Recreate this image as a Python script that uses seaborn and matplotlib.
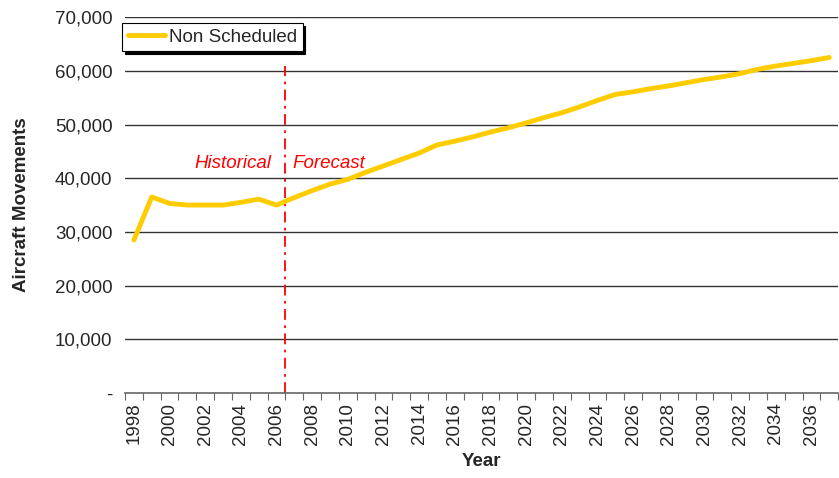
import matplotlib
matplotlib.use("Agg")
import matplotlib.pyplot as plt
import matplotlib.ticker as mticker
import seaborn as sns
import pandas as pd

# Non scheduled aircraft movements, history to 2006 and forecast after
years = list(range(1998, 2038))
movements = [28500, 36500, 35300, 35000, 35000, 35000, 35500, 36100, 35000,
             36400, 37700, 38900, 39800, 41100, 42300, 43500, 44700, 46200,
             46900, 47700, 48600, 49400, 50300, 51300, 52200, 53300, 54500,
             55600, 56100, 56700, 57200, 57800, 58400, 58900, 59500, 60300,
             60900, 61400, 61900, 62500]
series_name = "Non Scheduled"
y_ticks = [0, 10000, 20000, 30000, 40000, 50000, 60000, 70000]
split_year = 2006.5

df = pd.DataFrame({"Year": years, "Movements": movements})

sns.set_style("white")
plt.rcParams["font.family"] = ["Liberation Sans", "DejaVu Sans"]
fs = 13.5

fig = plt.figure(figsize=(8.39, 4.78), dpi=100)
ax = fig.add_axes([0.149, 0.178, 0.850, 0.786])

for v in y_ticks[1:]:
    ax.axhline(v, color="#333333", lw=1.0, zorder=1)

sns.lineplot(data=df, x="Year", y="Movements", color="#FFCC00", lw=3.5,
             label=series_name, ax=ax, zorder=3)

ax.axvline(split_year, color="#FF0000", lw=1.3, ymax=0.87, zorder=2,
           dashes=(6, 3, 1.5, 3))
ax.text(2005.7, 41200, "Historical", color="#FF0000", style="italic",
        fontsize=fs, ha="right", va="bottom")
ax.text(2006.9, 41200, "Forecast", color="#FF0000", style="italic",
        fontsize=fs, ha="left", va="bottom")

ax.set_xlim(1997.5, 2037.5)
ax.set_ylim(0, 70000)
ax.set_yticks(y_ticks)
ax.yaxis.set_major_formatter(mticker.FuncFormatter(
    lambda v, p: "-" if v == 0 else f"{int(v):,}"))

# category boundaries as tick marks, labels on even years
ax.set_xticks([y - 0.5 for y in years] + [2037.5])
ax.set_xticklabels([])
ax.set_xticks(list(range(1998, 2037, 2)), minor=True)
ax.set_xticklabels([str(y) for y in range(1998, 2037, 2)], minor=True,
                   rotation=90, fontsize=fs)
ax.tick_params(axis="x", which="major", length=5, color="#666666",
               direction="out", bottom=True)
ax.tick_params(axis="x", which="minor", length=0, pad=7, bottom=True)
ax.tick_params(axis="y", length=0, labelsize=fs, pad=9)

for s in ["top", "right", "left"]:
    ax.spines[s].set_visible(False)
ax.spines["bottom"].set_color("#666666")
ax.spines["bottom"].set_linewidth(1.2)

ax.set_xlabel("Year", fontsize=fs, fontweight="bold", labelpad=6)
ax.set_ylabel("Aircraft Movements", fontsize=fs, fontweight="bold",
              labelpad=18)

leg = ax.legend(loc="upper left", bbox_to_anchor=(-0.012, 1.0),
                fontsize=fs, frameon=True, fancybox=False,
                shadow={"color": "black", "alpha": 1.0},
                edgecolor="black", handlelength=2.0, borderpad=0.3,
                handletextpad=0.2, borderaxespad=0.3)
leg.get_frame().set_linewidth(0.8)

fig.savefig("out.png", dpi=100)
plt.close(fig)
